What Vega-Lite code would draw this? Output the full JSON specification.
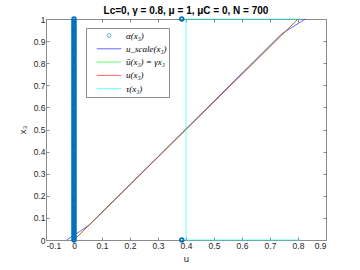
{
 "$schema": "https://vega.github.io/schema/vega-lite/v6.json",
 "width": 280, "height": 221,
 "autosize": {"type": "none"},
 "padding": {"left": 46, "top": 19, "right": 34, "bottom": 30},
 "background": "white",
 "title": {"text": "Lc=0, γ = 0.8, μ = 1, μC = 0, N = 700", "font": "Liberation Sans", "fontSize": 10, "fontWeight": "bold", "color": "#000", "offset": -2, "anchor": "middle"},
 "datasets": {
  "lines": [
   {"s": "u_scale(x₃)", "o": 1, "u": -0.027, "x3": 0},
   {"s": "u_scale(x₃)", "o": 2, "u": 0.02, "x3": 0.038},
   {"s": "u_scale(x₃)", "o": 3, "u": 0.056, "x3": 0.07},
   {"s": "u_scale(x₃)", "o": 4, "u": 0.741, "x3": 0.932},
   {"s": "u_scale(x₃)", "o": 5, "u": 0.826, "x3": 1},
   {"s": "ū(x₃) = γx₃", "o": 1, "u": 0, "x3": 0},
   {"s": "ū(x₃) = γx₃", "o": 2, "u": 0.8, "x3": 1},
   {"s": "u(x₃)", "o": 1, "u": 0, "x3": 0},
   {"s": "u(x₃)", "o": 2, "u": 0.8, "x3": 1},
   {"s": "τ(x₃)", "o": 1, "u": 0.81, "x3": 0},
   {"s": "τ(x₃)", "o": 2, "u": 0.4, "x3": 0},
   {"s": "τ(x₃)", "o": 3, "u": 0.4, "x3": 1},
   {"s": "τ(x₃)", "o": 4, "u": 0.81, "x3": 1}
  ],
  "alpha": [
   {"s": "α(x₃)", "u": 0, "x3": 0}, {"s": "α(x₃)", "u": 0, "x3": 0.01}, {"s": "α(x₃)", "u": 0, "x3": 0.02}, {"s": "α(x₃)", "u": 0, "x3": 0.03}, {"s": "α(x₃)", "u": 0, "x3": 0.04},
   {"s": "α(x₃)", "u": 0, "x3": 0.05}, {"s": "α(x₃)", "u": 0, "x3": 0.06}, {"s": "α(x₃)", "u": 0, "x3": 0.07}, {"s": "α(x₃)", "u": 0, "x3": 0.08}, {"s": "α(x₃)", "u": 0, "x3": 0.09},
   {"s": "α(x₃)", "u": 0, "x3": 0.1}, {"s": "α(x₃)", "u": 0, "x3": 0.11}, {"s": "α(x₃)", "u": 0, "x3": 0.12}, {"s": "α(x₃)", "u": 0, "x3": 0.13}, {"s": "α(x₃)", "u": 0, "x3": 0.14},
   {"s": "α(x₃)", "u": 0, "x3": 0.15}, {"s": "α(x₃)", "u": 0, "x3": 0.16}, {"s": "α(x₃)", "u": 0, "x3": 0.17}, {"s": "α(x₃)", "u": 0, "x3": 0.18}, {"s": "α(x₃)", "u": 0, "x3": 0.19},
   {"s": "α(x₃)", "u": 0, "x3": 0.2}, {"s": "α(x₃)", "u": 0, "x3": 0.21}, {"s": "α(x₃)", "u": 0, "x3": 0.22}, {"s": "α(x₃)", "u": 0, "x3": 0.23}, {"s": "α(x₃)", "u": 0, "x3": 0.24},
   {"s": "α(x₃)", "u": 0, "x3": 0.25}, {"s": "α(x₃)", "u": 0, "x3": 0.26}, {"s": "α(x₃)", "u": 0, "x3": 0.27}, {"s": "α(x₃)", "u": 0, "x3": 0.28}, {"s": "α(x₃)", "u": 0, "x3": 0.29},
   {"s": "α(x₃)", "u": 0, "x3": 0.3}, {"s": "α(x₃)", "u": 0, "x3": 0.31}, {"s": "α(x₃)", "u": 0, "x3": 0.32}, {"s": "α(x₃)", "u": 0, "x3": 0.33}, {"s": "α(x₃)", "u": 0, "x3": 0.34},
   {"s": "α(x₃)", "u": 0, "x3": 0.35}, {"s": "α(x₃)", "u": 0, "x3": 0.36}, {"s": "α(x₃)", "u": 0, "x3": 0.37}, {"s": "α(x₃)", "u": 0, "x3": 0.38}, {"s": "α(x₃)", "u": 0, "x3": 0.39},
   {"s": "α(x₃)", "u": 0, "x3": 0.4}, {"s": "α(x₃)", "u": 0, "x3": 0.41}, {"s": "α(x₃)", "u": 0, "x3": 0.42}, {"s": "α(x₃)", "u": 0, "x3": 0.43}, {"s": "α(x₃)", "u": 0, "x3": 0.44},
   {"s": "α(x₃)", "u": 0, "x3": 0.45}, {"s": "α(x₃)", "u": 0, "x3": 0.46}, {"s": "α(x₃)", "u": 0, "x3": 0.47}, {"s": "α(x₃)", "u": 0, "x3": 0.48}, {"s": "α(x₃)", "u": 0, "x3": 0.49},
   {"s": "α(x₃)", "u": 0, "x3": 0.5}, {"s": "α(x₃)", "u": 0, "x3": 0.51}, {"s": "α(x₃)", "u": 0, "x3": 0.52}, {"s": "α(x₃)", "u": 0, "x3": 0.53}, {"s": "α(x₃)", "u": 0, "x3": 0.54},
   {"s": "α(x₃)", "u": 0, "x3": 0.55}, {"s": "α(x₃)", "u": 0, "x3": 0.56}, {"s": "α(x₃)", "u": 0, "x3": 0.57}, {"s": "α(x₃)", "u": 0, "x3": 0.58}, {"s": "α(x₃)", "u": 0, "x3": 0.59},
   {"s": "α(x₃)", "u": 0, "x3": 0.6}, {"s": "α(x₃)", "u": 0, "x3": 0.61}, {"s": "α(x₃)", "u": 0, "x3": 0.62}, {"s": "α(x₃)", "u": 0, "x3": 0.63}, {"s": "α(x₃)", "u": 0, "x3": 0.64},
   {"s": "α(x₃)", "u": 0, "x3": 0.65}, {"s": "α(x₃)", "u": 0, "x3": 0.66}, {"s": "α(x₃)", "u": 0, "x3": 0.67}, {"s": "α(x₃)", "u": 0, "x3": 0.68}, {"s": "α(x₃)", "u": 0, "x3": 0.69},
   {"s": "α(x₃)", "u": 0, "x3": 0.7}, {"s": "α(x₃)", "u": 0, "x3": 0.71}, {"s": "α(x₃)", "u": 0, "x3": 0.72}, {"s": "α(x₃)", "u": 0, "x3": 0.73}, {"s": "α(x₃)", "u": 0, "x3": 0.74},
   {"s": "α(x₃)", "u": 0, "x3": 0.75}, {"s": "α(x₃)", "u": 0, "x3": 0.76}, {"s": "α(x₃)", "u": 0, "x3": 0.77}, {"s": "α(x₃)", "u": 0, "x3": 0.78}, {"s": "α(x₃)", "u": 0, "x3": 0.79},
   {"s": "α(x₃)", "u": 0, "x3": 0.8}, {"s": "α(x₃)", "u": 0, "x3": 0.81}, {"s": "α(x₃)", "u": 0, "x3": 0.82}, {"s": "α(x₃)", "u": 0, "x3": 0.83}, {"s": "α(x₃)", "u": 0, "x3": 0.84},
   {"s": "α(x₃)", "u": 0, "x3": 0.85}, {"s": "α(x₃)", "u": 0, "x3": 0.86}, {"s": "α(x₃)", "u": 0, "x3": 0.87}, {"s": "α(x₃)", "u": 0, "x3": 0.88}, {"s": "α(x₃)", "u": 0, "x3": 0.89},
   {"s": "α(x₃)", "u": 0, "x3": 0.9}, {"s": "α(x₃)", "u": 0, "x3": 0.91}, {"s": "α(x₃)", "u": 0, "x3": 0.92}, {"s": "α(x₃)", "u": 0, "x3": 0.93}, {"s": "α(x₃)", "u": 0, "x3": 0.94},
   {"s": "α(x₃)", "u": 0, "x3": 0.95}, {"s": "α(x₃)", "u": 0, "x3": 0.96}, {"s": "α(x₃)", "u": 0, "x3": 0.97}, {"s": "α(x₃)", "u": 0, "x3": 0.98}, {"s": "α(x₃)", "u": 0, "x3": 0.99},
   {"s": "α(x₃)", "u": 0, "x3": 1},
   {"s": "α(x₃)", "u": 0.385, "x3": 0}, {"s": "α(x₃)", "u": 0.385, "x3": 1}
  ]
 },
 "config": {
  "view": {"stroke": null},
  "axis": {"labelFont": "Liberation Sans", "labelFontSize": 8.5, "labelColor": "#262626", "titleFont": "Liberation Sans", "titleFontSize": 9.5, "titleFontWeight": "normal", "titleColor": "#262626", "domainColor": "#8c8c8c", "tickColor": "#8c8c8c", "grid": false, "tickSize": -3, "labelPadding": 4}
 },
 "layer": [
  {
   "data": {"name": "lines"},
   "mark": {"type": "line", "strokeWidth": 1, "opacity": 0.6, "clip": false},
   "encoding": {
    "x": {"field": "u", "type": "quantitative", "scale": {"domain": [-0.1, 0.9], "nice": false, "zero": false},
          "axis": {"orient": "bottom", "values": [-0.1, 0, 0.1, 0.2, 0.3, 0.4, 0.5, 0.6, 0.7, 0.8, 0.9], "format": "~g", "labelExpr": "replace(datum.label, '−', '-')", "title": "u", "titlePadding": 4}},
    "y": {"field": "x3", "type": "quantitative", "scale": {"domain": [0, 1], "nice": false},
          "axis": {"orient": "left", "values": [0, 0.1, 0.2, 0.3, 0.4, 0.5, 0.6, 0.7, 0.8, 0.9, 1], "format": "~g", "title": "x₃", "titlePadding": 6}},
    "color": {"field": "s", "type": "nominal",
      "scale": {"domain": ["α(x₃)", "u_scale(x₃)", "ū(x₃) = γx₃", "u(x₃)", "τ(x₃)"], "range": ["#0072BD", "#0000FF", "#00FF00", "#FF0000", "#00FFFF"]},
      "legend": {"title": null, "orient": "none", "legendX": 40, "legendY": 9, "padding": 2, "strokeColor": "#8c8c8c", "fillColor": "white",
        "labelFont": "Liberation Serif", "labelFontStyle": "italic", "labelFontSize": 9, "labelColor": "#000",
        "symbolStrokeWidth": 1, "symbolFillColor": "transparent", "symbolOffset": 8, "labelOffset": 4, "rowPadding": 2.3, "clipHeight": 11}},
    "order": {"field": "o", "type": "quantitative"}
   }
  },
  {
   "data": {"name": "alpha"},
   "mark": {"type": "point", "filled": false, "strokeWidth": 1.7, "opacity": 1, "clip": false},
   "encoding": {
    "x": {"field": "u", "type": "quantitative", "axis": {"orient": "top", "values": [-0.1, 0, 0.1, 0.2, 0.3, 0.4, 0.5, 0.6, 0.7, 0.8, 0.9], "labels": false, "title": null}},
    "y": {"field": "x3", "type": "quantitative", "axis": {"orient": "right", "values": [0, 0.1, 0.2, 0.3, 0.4, 0.5, 0.6, 0.7, 0.8, 0.9, 1], "labels": false, "title": null}},
    "color": {"field": "s", "type": "nominal"},
    "shape": {"field": "s", "type": "nominal", "scale": {"domain": ["α(x₃)", "u_scale(x₃)", "ū(x₃) = γx₃", "u(x₃)", "τ(x₃)"], "range": ["circle", "stroke", "stroke", "stroke", "stroke"]}},
    "size": {"field": "s", "type": "nominal", "scale": {"type": "ordinal", "domain": ["α(x₃)", "u_scale(x₃)", "ū(x₃) = γx₃", "u(x₃)", "τ(x₃)"], "range": [14, 600, 600, 600, 600]}}
   }
  }
 ],
 "resolve": {"axis": {"x": "independent", "y": "independent"}}
}
